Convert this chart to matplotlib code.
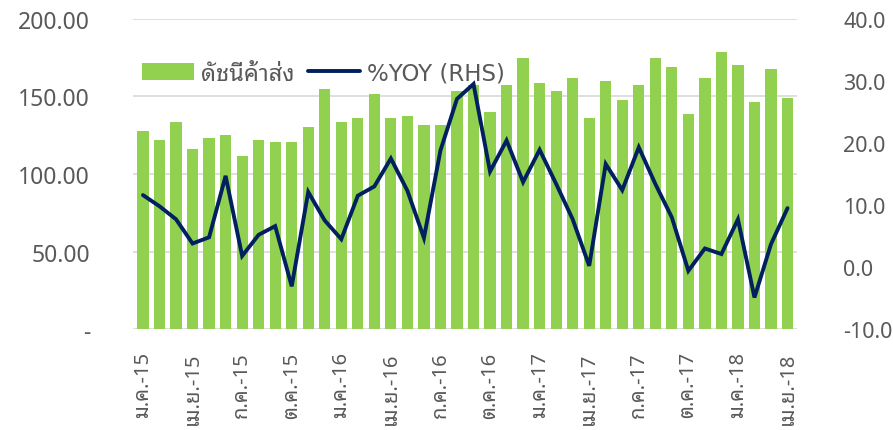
import matplotlib
matplotlib.use("Agg")
import matplotlib.pyplot as plt
import numpy as np

# ดัชนีราคาค้าส่ง รายเดือน ม.ค. 2015 - เม.ย. 2018
index_vals = [127.7, 121.9, 133.5, 116.1, 123.2, 125.4, 111.4, 121.9, 120.6, 120.6,
              130.3, 154.8, 133.5, 136.1, 151.4, 136.1, 137.2, 131.4, 131.4, 153.5,
              157.4, 140.0, 157.4, 174.8, 158.5, 153.8, 161.9, 136.1, 159.8, 147.9,
              157.4, 174.8, 169.0, 138.7, 161.9, 178.5, 170.3, 146.6, 167.9, 149.2]
yoy_vals = [11.6, 9.8, 7.7, 3.8, 4.8, 14.7, 1.8, 5.2, 6.6, -3.1,
            12.1, 7.5, 4.5, 11.5, 13.0, 17.5, 12.3, 4.7, 18.8, 27.1,
            29.5, 15.4, 20.4, 13.7, 18.9, 13.4, 7.7, 0.2, 16.6, 12.4,
            19.3, 13.4, 8.0, -0.6, 3.0, 2.1, 7.7, -4.9, 3.7, 9.5]
tick_labels = ["ม.ค.-15", "เม.ย.-15", "ก.ค.-15", "ต.ค.-15",
               "ม.ค.-16", "เม.ย.-16", "ก.ค.-16", "ต.ค.-16",
               "ม.ค.-17", "เม.ย.-17", "ก.ค.-17", "ต.ค.-17",
               "ม.ค.-18", "เม.ย.-18"]

thai_font = ["Noto Sans Thai Looped", "DejaVu Sans"]
num_font = ["Noto Sans", "DejaVu Sans"]
grey = "#595959"

x = np.arange(len(index_vals))

fig = plt.figure(figsize=(8.93, 4.31), dpi=100)
ax = fig.add_axes([0.149, 0.234, 0.744, 0.720])
ax2 = ax.twinx()

bars = ax.bar(x, index_vals, width=0.68, color="#92D050", zorder=2)
line, = ax2.plot(x, yoy_vals, color="#002060", lw=2.8, solid_joinstyle="miter",
                 solid_capstyle="round")

ax.set_ylim(0, 200)
ax.set_yticks([0, 50, 100, 150, 200])
ax.set_yticklabels(["-", "50.00", "100.00", "150.00", "200.00"], fontsize=16.5,
                   color=grey, family=num_font)
ax2.set_ylim(-10, 40)
ax2.set_yticks([-10, 0, 10, 20, 30, 40])
ax2.set_yticklabels(["-10.0", "0.0", "10.0", "20.0", "30.0", "40.0"], fontsize=15.5,
                    color=grey, family=num_font)
ax.set_xlim(-0.6, len(x) - 0.4)
ax.set_xticks(x[::3])
ax.set_xticklabels(tick_labels, rotation=90, fontsize=14.5, color=grey, family=thai_font)

ax.grid(axis="y", color="#D9D9D9", lw=1.2, zorder=0)
ax.set_axisbelow(True)
for a in (ax, ax2):
    for s in ("top", "left", "right", "bottom"):
        a.spines[s].set_visible(False)
    a.tick_params(length=0)
ax.tick_params(axis="y", pad=31)
ax.tick_params(axis="x", pad=16)
ax2.tick_params(axis="y", pad=33)

ax.set_zorder(1)
ax2.set_zorder(2)
ax2.patch.set_visible(False)

leg = ax.legend([bars, line], ["ดัชนีค้าส่ง", "%YOY (RHS)"], ncol=2, frameon=False,
                loc="upper left", bbox_to_anchor=(-0.018, 0.93), handlelength=2.2,
                handleheight=0.75, columnspacing=0.55, handletextpad=0.3,
                prop={"family": thai_font, "size": 17})
for t in leg.get_texts():
    t.set_color(grey)
leg.get_texts()[1].set_fontfamily(["DejaVu Sans"])
leg.get_texts()[1].set_fontsize(16.5)

fig.savefig("out.png")
